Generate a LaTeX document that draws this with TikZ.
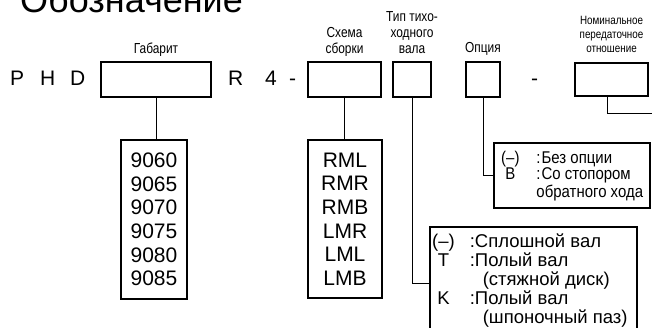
\documentclass[tikz,border=0pt]{standalone}
\usepackage{fontspec}
\setmainfont{Liberation Sans}
\newfontfamily\narrowfont[FakeStretch=0.82]{Liberation Sans}
\newfontfamily\semifont[FakeStretch=0.88]{Liberation Sans}
\begin{document}
\begin{tikzpicture}[x=1pt,y=-1pt,
  codebox/.style={draw, line width=2pt, inner sep=0pt},
  link/.style={draw, line width=0.9pt},
  big/.style={font=\fontsize{21}{23.6}\selectfont, inner sep=0pt, anchor=base west},
  lbl/.style={font=\narrowfont\fontsize{14.5}{16}\selectfont, align=center, inner sep=0pt, text depth=0pt, anchor=south},
  smalllbl/.style={font=\narrowfont\fontsize{12}{14}\selectfont, align=center, inner sep=0pt, text depth=0pt, anchor=south},
  listtext/.style={font=\fontsize{21}{23.6}\selectfont, align=center},
  opttext/.style={font=\semifont\fontsize{17}{16.5}\selectfont, inner sep=0pt, anchor=base west},
  shafttext/.style={font=\fontsize{18.5}{18}\selectfont, inner sep=0pt, anchor=base west}
]
\useasboundingbox (0,0) rectangle (652,327);

% title (cut by the top edge)
\node[font=\fontsize{36}{40}\selectfont, anchor=base west, inner sep=0pt] (title) at (20,12) {Обозначение};

% code letters
\node[big] (p) at (10,85) {P};
\node[big] (h) at (40,85) {H};
\node[big] (d) at (70,85) {D};
\node[big] (r) at (228,85) {R};
\node[big] (four) at (265,85) {4};
\node[big] (dashA) at (289,85) {-};
\node[big] (dashB) at (531,85) {-};

% top boxes
\node[codebox, minimum width=110pt, minimum height=35pt] (gab) at (156,79.5) {};
\node[codebox, minimum width=73pt, minimum height=35pt] (scheme) at (344.5,79.5) {};
\node[codebox, minimum width=38pt, minimum height=35pt] (shaft) at (412,79.5) {};
\node[codebox, minimum width=34pt, minimum height=35pt] (opt) at (483,79.5) {};
\node[codebox, minimum width=73pt, minimum height=33pt] (ratio) at (611.5,79) {};

% labels above boxes
\node[lbl] (gablbl) at (156,54) {Габарит};
\node[lbl] (schlbl) at (344.5,54) {Схема\\сборки};
\node[lbl] (shlbl) at (412,54) {Тип тихо-\\ходного\\вала};
\node[lbl] (optlbl) at (483,53) {Опция};
\node[smalllbl] (ratlbl) at (611.5,53) {Номинальное\\передаточное\\отношение};

% list boxes
\node[codebox, listtext, minimum width=66pt, minimum height=159pt] (gablist) at (154,219.5)
  {9060\\9065\\9070\\9075\\9080\\9085};
\node[codebox, listtext, minimum width=74pt, minimum height=158pt] (schlist) at (345,219)
  {RML\\RMR\\RMB\\LMR\\LML\\LMB};

% option box
\node[codebox, minimum width=156pt, minimum height=65pt] (optbox) at (572,175.5) {};
\node[opttext] (optinfo) at (501,163)
  {\begin{tabular}[t]{@{}c@{\hspace{17pt}}l@{}}
   (–) & :\hspace{1pt}Без опции\\
   B & :\hspace{1pt}Со стопором\\
     & обратного хода
   \end{tabular}};

% shaft type box (cut by the bottom edge)
\node[codebox, minimum width=207pt, minimum height=113pt] (shaftbox) at (533.5,283.5) {};
\node[shafttext] (shaftinfo) at (432,247)
  {\begin{tabular}[t]{@{}c@{\hspace{15pt}}l@{}}
   (–) & :Сплошной вал\\
   T & :Полый вал\\
     & \hspace{13pt}(стяжной диск)\\
   K & :Полый вал\\
     & \hspace{13pt}(шпоночный паз)
   \end{tabular}};

% connectors
\draw[link] (gab.south) -- (gab.south |- gablist.north);
\draw[link] (scheme.south) -- (scheme.south |- schlist.north);
\draw[link] (shaft.south) |- (shaftbox.west);
\draw[link] (opt.south) |- (optbox.west);
\coordinate (ratioend) at (660,113);
\draw[link] ([xshift=-4pt]ratio.south) |- (ratioend);
\end{tikzpicture}
\end{document}
